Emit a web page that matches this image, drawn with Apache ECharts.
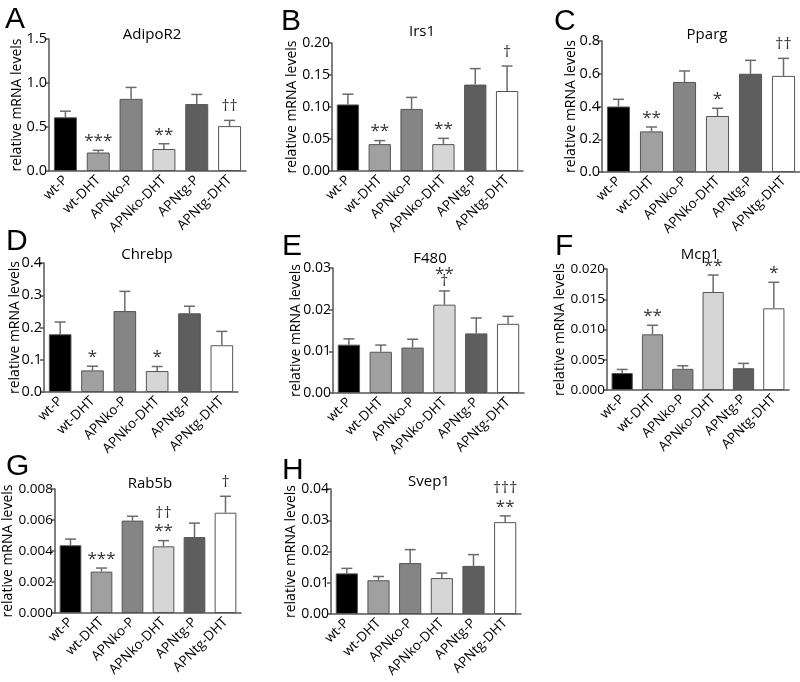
<!DOCTYPE html>
<html>
<head>
<meta charset="utf-8">
<script src="https://cdn.jsdelivr.net/npm/echarts@6/dist/echarts.min.js"></script>
<style>
  html, body { margin: 0; background: #fff; }
  #main { width: 800px; height: 682px; }
</style>
</head>
<body>
<div id="main"></div>
<script>
const groups = ['wt-P', 'wt-DHT', 'APNko-P', 'APNko-DHT', 'APNtg-P', 'APNtg-DHT'];

// mean and SEM
const adipor2Mean = [0.61, 0.21, 0.82, 0.25, 0.76, 0.51];
const adipor2Sem  = [0.07, 0.025, 0.13, 0.06, 0.11, 0.065];
const adipor2Sig  = ['', '***', '', '**', '', '††'];

const irs1Mean = [0.104, 0.042, 0.097, 0.042, 0.135, 0.125];
const irs1Sem  = [0.016, 0.0055, 0.018, 0.009, 0.025, 0.039];
const irs1Sig  = ['', '**', '', '**', '', '†'];

const ppargMean = [0.40, 0.248, 0.55, 0.342, 0.60, 0.587];
const ppargSem  = [0.044, 0.027, 0.067, 0.047, 0.082, 0.107];
const ppargSig  = ['', '**', '', '*', '', '††'];

const chrebpMean = [0.179, 0.067, 0.251, 0.065, 0.244, 0.145];
const chrebpSem  = [0.038, 0.013, 0.061, 0.014, 0.022, 0.043];
const chrebpSig  = ['', '*', '', '*', '', ''];

const f480Mean = [0.0116, 0.0099, 0.0109, 0.0212, 0.0143, 0.0166];
const f480Sem  = [0.0014, 0.0016, 0.0020, 0.0033, 0.0037, 0.0018];
const f480Sig  = ['', '', '', '**\n†', '', ''];

const mcp1Mean = [0.0028, 0.0092, 0.0035, 0.0162, 0.0036, 0.0135];
const mcp1Sem  = [0.0006, 0.0015, 0.0005, 0.0028, 0.0008, 0.0043];
const mcp1Sig  = ['', '**', '', '**', '', '*'];

const rab5bMean = [0.00437, 0.00267, 0.00596, 0.0043, 0.0049, 0.00647];
const rab5bSem  = [0.0004, 0.00023, 0.00028, 0.00037, 0.0009, 0.00106];
const rab5bSig  = ['', '***', '', '††\n**', '', '†'];

const svep1Mean = [0.013, 0.0108, 0.0163, 0.0115, 0.0154, 0.0294];
const svep1Sem  = [0.0016, 0.0012, 0.0043, 0.0016, 0.0036, 0.002];
const svep1Sig  = ['', '', '', '', '', '†††\n**'];

const barColors = ['#000000', '#a0a0a0', '#858585', '#d6d6d6', '#5e5e5e', '#ffffff'];

// box: [left, top, width, height] of each plot area
const panels = [
  {letter: 'A', title: 'AdipoR2', mean: adipor2Mean, sem: adipor2Sem, sig: adipor2Sig, max: 1.5, step: 0.5, dec: 1,
   box: [49, 39, 197, 132], font: 14.5, gap: 25, letterAt: [0, 0], titleAt: [147, 22]},
  {letter: 'B', title: 'Irs1', mean: irs1Mean, sem: irs1Sem, sig: irs1Sig, max: 0.2, step: 0.05, dec: 2,
   box: [332, 43, 191, 128], font: 14, gap: 33, letterAt: [276, 2], titleAt: [417, 19]},
  {letter: 'C', title: 'Pparg', mean: ppargMean, sem: ppargSem, sig: ppargSig, max: 0.8, step: 0.2, dec: 1,
   box: [602, 41, 198, 131], font: 14.5, gap: 24, letterAt: [549, 2], titleAt: [702, 22]},
  {letter: 'D', title: 'Chrebp', mean: chrebpMean, sem: chrebpSem, sig: chrebpSig, max: 0.4, step: 0.1, dec: 1,
   box: [44, 263, 194, 129], font: 14.5, gap: 22, letterAt: [1, 222], titleAt: [142, 242]},
  {letter: 'E', title: 'F480', mean: f480Mean, sem: f480Sem, sig: f480Sig, max: 0.03, step: 0.01, dec: 2,
   box: [333, 268, 191, 125], font: 14, gap: 30, letterAt: [277, 227], titleAt: [425, 246]},
  {letter: 'F', title: 'Mcp1', mean: mcp1Mean, sem: mcp1Sem, sig: mcp1Sig, max: 0.02, step: 0.005, dec: 3,
   box: [607, 269, 182, 121], font: 13.5, gap: 40, letterAt: [550, 227], titleAt: [695, 242]},
  {letter: 'G', title: 'Rab5b', mean: rab5bMean, sem: rab5bSem, sig: rab5bSig, max: 0.008, step: 0.002, dec: 3,
   box: [53, 489, 188, 124], font: 13.5, gap: 40, letterAt: [1, 447], titleAt: [145, 471]},
  {letter: 'H', title: 'Svep1', mean: svep1Mean, sem: svep1Sem, sig: svep1Sig, max: 0.04, step: 0.01, dec: 2,
   box: [331, 489, 190, 125], font: 14, gap: 33, letterAt: [277, 451], titleAt: [424, 469]}
];

const FONT = '"Open Sans", sans-serif';
const axisColor = '#555';

const grid = [], xAxis = [], yAxis = [], series = [], title = [];

panels.forEach(function (p, k) {
  grid.push({left: p.box[0], top: p.box[1], width: p.box[2], height: p.box[3], containLabel: false});
  xAxis.push({
    type: 'category', gridIndex: k, data: groups,
    axisLine: {lineStyle: {color: axisColor, width: 1.5}},
    axisTick: {alignWithLabel: true, length: 5, lineStyle: {color: axisColor, width: 1.5}},
    axisLabel: {rotate: 45, interval: 0, margin: 7, color: '#000', fontSize: 13.5, fontFamily: FONT}
  });
  yAxis.push({
    type: 'value', gridIndex: k, min: 0, max: p.max, interval: p.step,
    name: 'relative mRNA levels', nameLocation: 'middle', nameGap: p.gap, nameMoveOverlap: false,
    nameTextStyle: {color: '#000', fontSize: 14, fontFamily: FONT},
    axisLine: {show: true, lineStyle: {color: axisColor, width: 1.5}},
    axisTick: {show: true, length: 4, lineStyle: {color: axisColor, width: 1.5}},
    splitLine: {show: false},
    axisLabel: {margin: 2, color: '#000', fontSize: p.font, fontFamily: FONT,
      formatter: function (v) { return v.toFixed(p.dec); }}
  });
  series.push({
    type: 'bar', xAxisIndex: k, yAxisIndex: k, barCategoryGap: '30%',
    data: p.mean.map(function (v, i) {
      return {value: v, itemStyle: {color: barColors[i], borderColor: '#555', borderWidth: 1}};
    })
  });
  series.push({
    type: 'custom', xAxisIndex: k, yAxisIndex: k, z: 3,
    data: p.mean.map(function (v, i) { return [i, v, p.sem[i]]; }),
    renderItem: function (params, api) {
      const i = api.value(0);
      const m = api.value(1), e = api.value(2);
      const base = api.coord([i, m]);
      const top = api.coord([i, m + e]);
      const st = {stroke: '#6b6b6b', lineWidth: 1.5};
      const children = [
        {type: 'line', shape: {x1: base[0], y1: base[1], x2: top[0], y2: top[1]}, style: st},
        {type: 'line', shape: {x1: top[0] - 5.5, y1: top[1], x2: top[0] + 5.5, y2: top[1]}, style: st}
      ];
      // significance marks, stacked upward from the cap
      const lines = p.sig[i] ? p.sig[i].split('\n').reverse() : [];
      let centre = top[1];
      lines.forEach(function (s, n) {
        const star = s.indexOf('*') >= 0;
        if (n === 0) centre -= star ? 12 : (lines.length > 1 ? 9 : 14);
        else centre -= star ? 11 : 15;
        children.push({
          type: 'text',
          style: {text: s, x: top[0], y: centre + (star ? 3 : 0), align: 'center', verticalAlign: 'middle',
                  fill: '#333', fontSize: star ? 17 : 16, fontFamily: FONT}
        });
      });
      return {type: 'group', children: children};
    }
  });
  title.push({text: p.letter, left: p.letterAt[0], top: p.letterAt[1],
    textStyle: {fontSize: 30, fontWeight: 'normal', color: '#000', fontFamily: '"Liberation Sans", Arial, sans-serif'}});
  title.push({text: p.title, left: p.titleAt[0], top: p.titleAt[1], textAlign: 'center',
    textStyle: {fontSize: 15, fontWeight: 'normal', color: '#000', fontFamily: FONT}});
});

const chart = echarts.init(document.getElementById('main'));
chart.setOption({
  backgroundColor: '#fff',
  animation: false,
  title: title,
  grid: grid,
  xAxis: xAxis,
  yAxis: yAxis,
  series: series
});
</script>
</body>
</html>
